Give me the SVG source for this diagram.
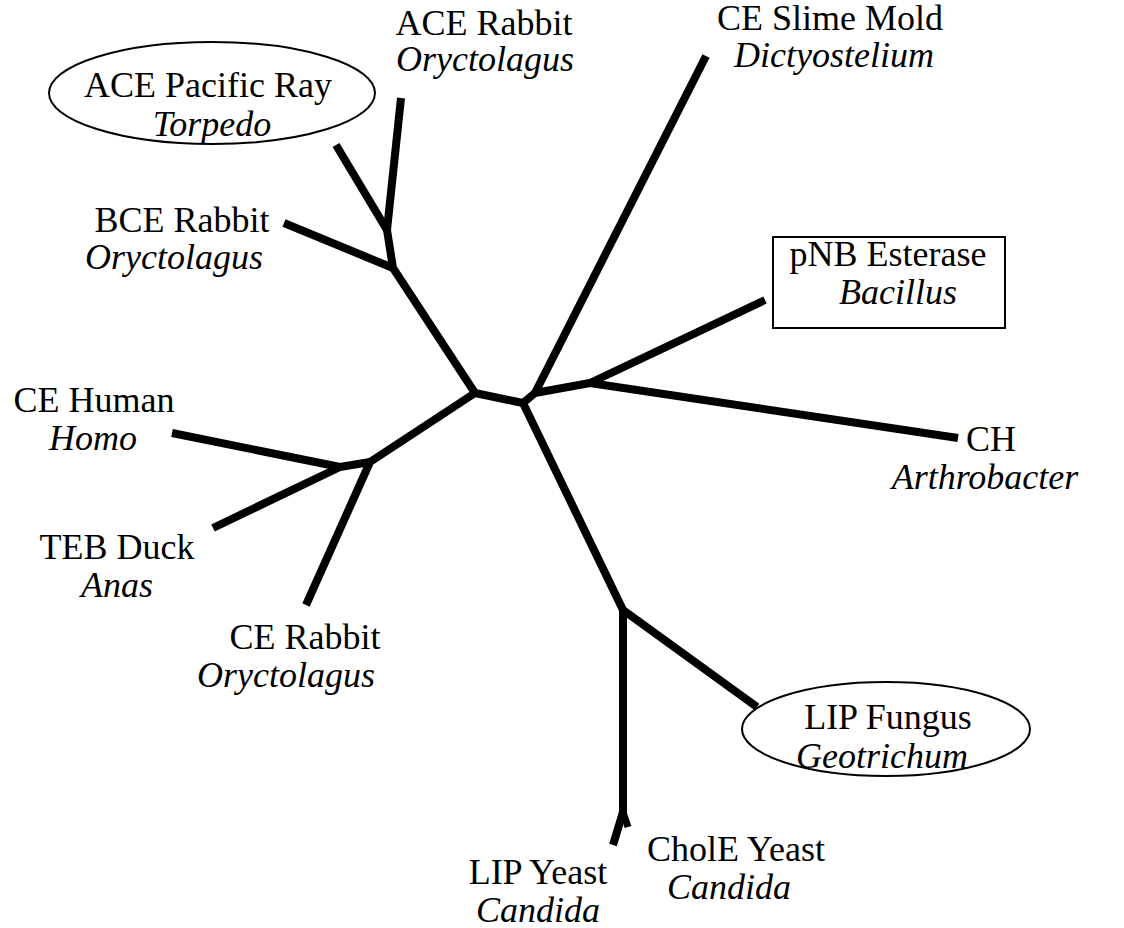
<svg xmlns="http://www.w3.org/2000/svg" width="1124" height="928" viewBox="0 0 1124 928">
<style>
.t{font-family:"Liberation Serif","Times New Roman",serif;font-size:36px;fill:#000;text-anchor:middle}
.i{font-style:italic}
.br{fill:none;stroke:#000;stroke-width:8;stroke-linecap:butt;stroke-linejoin:round}
.sh{fill:none;stroke:#000;stroke-width:2}
</style>
<rect width="1124" height="928" fill="#fff"/>
<g id="connectors">
<polyline class="br" points="401,98 387,230 393,268 475,393 523,403 535,393 590,383 958,438"/>
<line class="br" x1="336" y1="145" x2="387" y2="230"/>
<line class="br" x1="284" y1="223" x2="393" y2="268"/>
<polyline class="br" points="475,393 370,462 306,605"/>
<polyline class="br" points="370,462 340,467 172,433"/>
<line class="br" x1="340" y1="467" x2="213" y2="528"/>
<line class="br" x1="535" y1="393" x2="706" y2="56"/>
<line class="br" x1="590" y1="383" x2="765" y2="300"/>
<polyline class="br" points="523,403 623,610 757,707"/>
<polyline class="br" points="623,610 623,812 613,845"/>
<line class="br" x1="623" y1="812" x2="628" y2="827" style="stroke-width:7"/>
</g>
<g id="ace-pacific-ray">
<ellipse class="sh" cx="212" cy="93" rx="163" ry="51"/>
<text class="t" x="208" y="97">ACE Pacific Ray</text>
<text class="t i" x="212" y="136">Torpedo</text>
</g>
<g id="ace-rabbit">
<text class="t" x="484" y="35">ACE Rabbit</text>
<text class="t i" x="485" y="71">Oryctolagus</text>
</g>
<g id="ce-slime-mold">
<text class="t" x="830" y="30">CE Slime Mold</text>
<text class="t i" x="834" y="67">Dictyostelium</text>
</g>
<g id="bce-rabbit">
<text class="t" x="182" y="232">BCE Rabbit</text>
<text class="t i" x="174" y="269">Oryctolagus</text>
</g>
<g id="pnb-esterase">
<rect class="sh" x="773" y="237" width="232" height="91"/>
<text class="t" x="888" y="266">pNB Esterase</text>
<text class="t i" x="898" y="304">Bacillus</text>
</g>
<g id="ce-human">
<text class="t" x="94" y="412">CE Human</text>
<text class="t i" x="93" y="450">Homo</text>
</g>
<g id="ch">
<text class="t" x="991" y="451">CH</text>
<text class="t i" x="985" y="489">Arthrobacter</text>
</g>
<g id="teb-duck">
<text class="t" x="117" y="559">TEB Duck</text>
<text class="t i" x="117" y="597">Anas</text>
</g>
<g id="ce-rabbit">
<text class="t" x="305" y="649">CE Rabbit</text>
<text class="t i" x="286" y="687">Oryctolagus</text>
</g>
<g id="lip-fungus">
<ellipse class="sh" cx="886" cy="729" rx="144" ry="47"/>
<text class="t" x="888" y="729">LIP Fungus</text>
<text class="t i" x="882" y="768">Geotrichum</text>
</g>
<g id="lip-yeast">
<text class="t" x="538" y="884">LIP Yeast</text>
<text class="t i" x="538" y="922">Candida</text>
</g>
<g id="chole-yeast">
<text class="t" x="736" y="861">CholE Yeast</text>
<text class="t i" x="729" y="899">Candida</text>
</g>
</svg>
